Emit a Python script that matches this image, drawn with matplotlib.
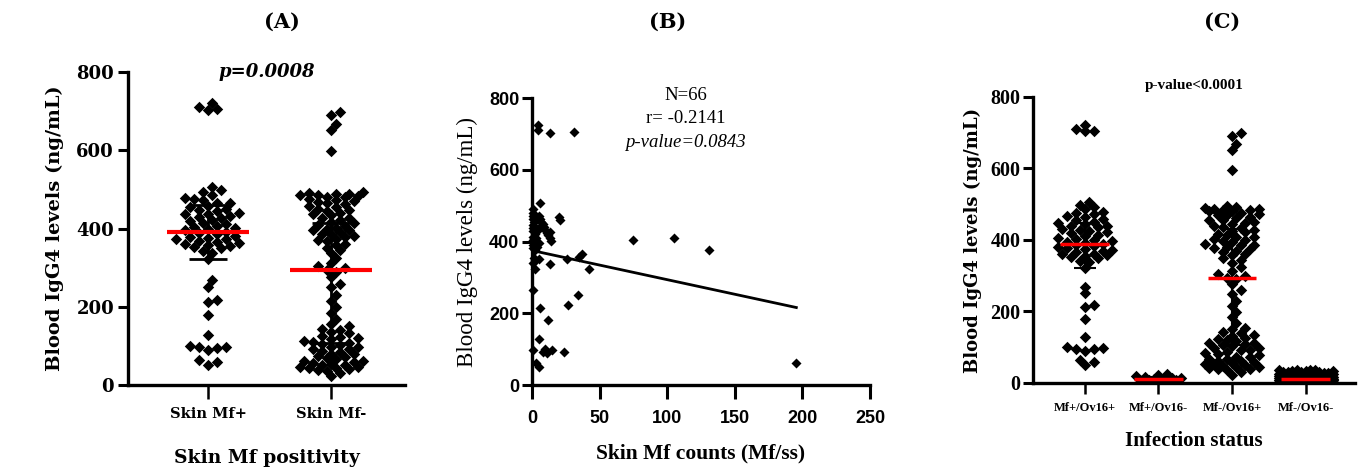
import numpy as np
import matplotlib
matplotlib.use("Agg")
import matplotlib.pyplot as plt

# ---- data ----
group_a = ["Skin Mf+", "Skin Mf-"]
group_c = ["Mf+/Ov16+", "Mf+/Ov16-", "Mf-/Ov16+", "Mf-/Ov16-"]

mf_pos = [722, 710, 706, 704,
          507, 499, 493, 486, 478, 476, 474, 466, 465, 458, 456, 450, 448, 446,
          440, 438, 436, 431, 429, 426, 422, 419, 414, 411, 406, 404, 401, 398,
          395, 392, 389, 386, 382, 379, 377, 374, 372, 369, 365, 362, 360, 357,
          355, 352, 350, 342, 338, 322,
          269, 251, 217, 212, 179, 128, 100, 98, 96, 94, 90, 64, 58, 51]

mf_neg = [699, 690, 668, 652, 597,
          494, 492, 489, 488, 486, 485, 483, 481, 480, 476, 473, 470, 469, 464,
          462, 457, 455, 451, 447, 446, 440, 437, 434, 428, 426, 421, 417,
          413, 409, 407, 402, 400, 396, 395, 390, 387, 386, 381, 378, 374, 370,
          367, 360, 357, 349, 345, 337, 325, 313, 304, 298, 294,
          290, 276, 259, 250, 230, 214, 199, 184, 168, 155, 151, 144, 141, 135,
          132, 126, 124, 119, 118, 113, 111, 108,
          105, 103, 98, 97, 92, 91, 86, 84, 80, 79, 74, 72, 68, 67, 62, 61, 58,
          57, 53, 52, 50, 47, 46, 44, 43, 40, 38, 35, 31, 22]

mf_pos_ov16_neg = [25, 22, 20, 18, 15, 14, 12, 11, 9, 8, 7, 6, 5]

mf_neg_ov16_neg = [37, 36, 35, 35, 34, 33, 33, 32, 31, 30, 30, 29, 28, 28, 27,
                   26, 26, 25, 25, 24, 23, 23, 22, 22, 21, 21, 20, 20, 19, 19,
                   18, 18, 17, 17, 16, 16, 15, 15, 15, 14, 14, 13, 13, 13, 12,
                   12, 12, 11, 11, 11, 10, 10, 10, 9, 9, 9, 8, 8, 8, 7, 7, 7,
                   6, 6, 6, 5, 5, 5, 4, 4, 4, 3, 3, 3, 2, 2, 2, 1, 1, 1]

# median and interquartile range as drawn
a_median = [390, 293]
a_q1 = [322, 107]
a_q3 = [460, 415]
c_median = [390, 10, 293, 10]
c_q1 = [322, 6, 107, 5]
c_q3 = [447, 16, 430, 20]

b_counts = [4.5, 4.5, 13, 31, 6, 0.5, 0.8, 1, 0.5, 1.5, 0.5, 1, 0.5, 2, 1, 0.5,
            1.5, 1, 0.5, 2, 1.5, 2.5, 1, 2, 1, 0.5, 5, 6, 7, 8, 9, 10, 11, 12,
            13, 14, 6, 4, 3, 5, 4, 5, 20, 21, 13, 13, 26, 35, 37, 42, 34, 27, 6,
            12, 5, 8, 10, 11, 15, 24, 3, 5, 75, 105, 131, 195.5]
b_igg4 = [725, 712, 703, 706, 507, 490, 480, 470, 462, 455, 445, 438, 430, 420,
          412, 405, 398, 390, 383, 376, 355, 348, 340, 322, 266, 98, 470, 462,
          455, 448, 440, 432, 425, 418, 410, 402, 440, 430, 410, 395, 385, 352,
          468, 460, 427, 338, 352, 358, 366, 322, 250, 222, 214, 180, 128, 92,
          100, 88, 97, 91, 60, 50, 405, 410, 376, 61]
fit_x = [0, 195.5]
fit_y = [375, 216]

CAMB = "DejaVu Serif"
TIMES = "Liberation Serif"
ARIAL = "Liberation Sans"


def swarm_x(ax, center, values, size_px, half_px, overlap=0.8):
    tr = ax.transData
    pts = tr.transform(np.column_stack([np.full(len(values), center), values]))
    cx = pts[0, 0]
    ys = pts[:, 1]
    step = size_px * 0.5
    cand = [0.0]
    k = 1
    while k * step <= half_px:
        cand += [k * step, -k * step]
        k += 1
    thr = size_px * overlap
    px, py = [], []
    xs = np.zeros(len(values))
    for i in np.argsort(ys):
        y = ys[i]
        pick, alt, alt_d = None, 0.0, -1
        for c in cand:
            d = np.min(np.hypot(np.array(px) - c, np.array(py) - y)) if px else np.inf
            if d >= thr:
                pick = c
                break
            if d > alt_d:
                alt_d, alt = d, c
        if pick is None:
            pick = alt
        xs[i] = pick
        px.append(pick)
        py.append(y)
    inv = ax.transData.inverted()
    return inv.transform(np.column_stack([cx + xs, ys]))[:, 0]


def style(ax):
    for s in ["top", "right"]:
        ax.spines[s].set_visible(False)
    for s in ["left", "bottom"]:
        ax.spines[s].set_linewidth(2.4)


fig = plt.figure(figsize=(13.63, 4.73), dpi=100)

# ---------------- (A) ----------------
axa = fig.add_axes([0.0939, 0.186, 0.2032, 0.6617])
style(axa)
axa.set_xlim(-0.65, 1.6)
axa.set_ylim(0, 800)
for i, (vals, hw, ov) in enumerate([(mf_pos, 40, 0.8), (mf_neg, 32, 0.72)]):
    xs = swarm_x(axa, i, vals, 9, hw, ov)
    axa.scatter(xs, vals, marker="D", s=34, color="black", linewidths=0, zorder=3)
    axa.errorbar(i, a_median[i], yerr=[[a_median[i] - a_q1[i]], [a_q3[i] - a_median[i]]],
                 fmt="none", ecolor="black", elinewidth=2, capsize=14, capthick=2, zorder=4)
    axa.hlines(a_median[i], i - 0.33, i + 0.33, color="red", lw=3, zorder=5)
axa.set_yticks([0, 200, 400, 600, 800])
axa.set_xticks([0, 1])
axa.set_xticklabels(group_a, fontfamily=CAMB, fontweight="bold", fontsize=10.5)
for t in axa.get_yticklabels():
    t.set_fontfamily(CAMB)
    t.set_fontweight("bold")
    t.set_fontsize(13)
axa.tick_params(axis="y", length=7, width=2.2, pad=3)
axa.tick_params(axis="x", length=10, width=1.8, pad=6)
axa.set_ylabel("Blood IgG4 levels (ng/mL)", fontfamily=CAMB, fontweight="bold",
               fontsize=14, labelpad=9)
axa.set_xlabel("Skin Mf positivity", fontfamily=CAMB, fontweight="bold",
               fontsize=13.5, labelpad=20)
axa.text(0.5, 1.0, "p=0.0008", transform=axa.transAxes, ha="center", va="center",
         fontfamily=CAMB, fontweight="bold", fontstyle="italic", fontsize=13)

# ---------------- (B) ----------------
axb = fig.add_axes([0.3903, 0.186, 0.248, 0.6068])
style(axb)
axb.set_xlim(0, 250)
axb.set_ylim(0, 800)
axb.scatter(b_counts, b_igg4, marker="D", s=26, color="black", linewidths=0,
            zorder=3, clip_on=False)
axb.plot(fit_x, fit_y, color="black", lw=2, zorder=4)
axb.set_xticks([0, 50, 100, 150, 200, 250])
axb.set_yticks([0, 200, 400, 600, 800])
for t in axb.get_xticklabels() + axb.get_yticklabels():
    t.set_fontfamily(ARIAL)
    t.set_fontweight("bold")
    t.set_fontsize(13)
axb.tick_params(axis="y", length=7, width=2.2, pad=2)
axb.tick_params(axis="x", length=10, width=2.2, pad=8)
axb.set_ylabel("Blood IgG4 levels (ng/mL)", fontfamily=TIMES, fontsize=16.5,
               labelpad=8)
axb.set_xlabel("Skin Mf counts (Mf/ss)", fontfamily=TIMES, fontweight="bold",
               fontsize=15.5, labelpad=12)
axb.text(0.455, 1.01, "N=66", transform=axb.transAxes, ha="center", va="center",
         fontfamily=TIMES, fontsize=13.5)
axb.text(0.455, 0.93, "r= -0.2141", transform=axb.transAxes, ha="center",
         va="center", fontfamily=TIMES, fontsize=13.5)
axb.text(0.455, 0.845, "p-value=0.0843", transform=axb.transAxes, ha="center",
         va="center", fontfamily=TIMES, fontstyle="italic", fontsize=13.5)

# ---------------- (C) ----------------
axc = fig.add_axes([0.7579, 0.1903, 0.2362, 0.6047])
style(axc)
axc.set_xlim(-0.7, 3.67)
axc.set_ylim(0, 800)
c_groups = [mf_pos, mf_pos_ov16_neg, mf_neg, mf_neg_ov16_neg]
for i, (vals, hw) in enumerate(zip(c_groups, [27, 24, 27, 27])):
    xs = swarm_x(axc, i, vals, 9, hw, overlap=0.7)
    axc.scatter(xs, vals, marker="D", s=34, color="black", linewidths=0, zorder=3)
    axc.errorbar(i, c_median[i], yerr=[[c_median[i] - c_q1[i]], [c_q3[i] - c_median[i]]],
                 fmt="none", ecolor="black", elinewidth=1.5, capsize=8, capthick=1.5,
                 zorder=4)
    axc.hlines(c_median[i], i - 0.33, i + 0.33, color="red", lw=2.5, zorder=5)
axc.set_yticks([0, 200, 400, 600, 800])
axc.set_xticks([0, 1, 2, 3])
axc.set_xticklabels(group_c, fontfamily=TIMES, fontweight="bold", fontsize=9)
for t in axc.get_yticklabels():
    t.set_fontfamily(TIMES)
    t.set_fontweight("bold")
    t.set_fontsize(14.5)
axc.tick_params(axis="y", length=7, width=2.2, pad=2)
axc.tick_params(axis="x", length=8, width=1.8, pad=6)
axc.set_ylabel("Blood IgG4 levels (ng/mL)", fontfamily=CAMB, fontweight="bold",
               fontsize=13, labelpad=6)
axc.set_xlabel("Infection status", fontfamily=TIMES, fontweight="bold",
               fontsize=15, labelpad=12)
axc.text(0.5, 1.04, "p-value<0.0001", transform=axc.transAxes, ha="center",
         va="center", fontfamily=TIMES, fontweight="bold", fontsize=11)

for x, lab in [(282, "(A)"), (668, "(B)"), (1222, "(C)")]:
    fig.text(x / 1363, 1 - 22 / 473, lab, ha="center", va="center",
             fontfamily=CAMB, fontweight="bold", fontsize=15)

fig.savefig("out.png", dpi=100)
